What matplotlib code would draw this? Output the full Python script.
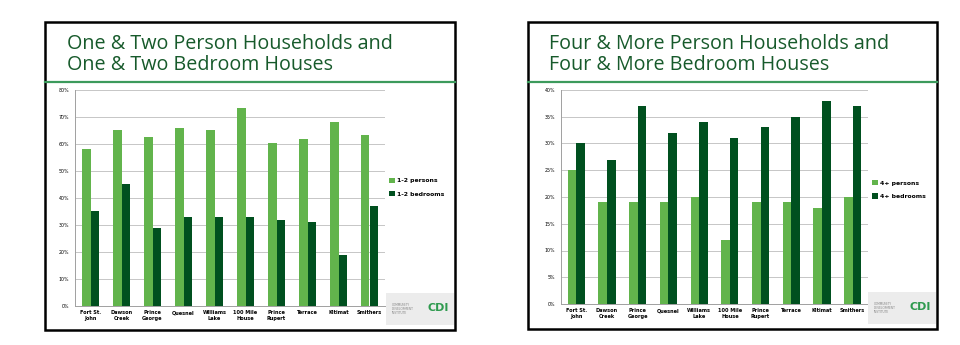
from matplotlib import pyplot as plt
from matplotlib.patches import Rectangle
from matplotlib.lines import Line2D
from matplotlib.ticker import FuncFormatter

towns = ["Fort St.\nJohn", "Dawson\nCreek", "Prince\nGeorge", "Quesnel", "Williams\nLake",
         "100 Mile\nHouse", "Prince\nRupert", "Terrace", "Kitimat", "Smithers"]

small_persons = [58, 65, 62.7, 66, 65, 73.5, 60.5, 62, 68, 63.3]
small_bedrooms = [35, 45, 29, 33, 33, 33, 32, 31, 19, 37]

large_persons = [25, 19, 19, 19, 20, 12, 19, 19, 18, 20]
large_bedrooms = [30, 27, 37, 32, 34, 31, 33, 35, 38, 37]

LIGHT = "#62b44c"
DARK = "#00501f"
TITLE = "#175a2b"
RULE = "#3c9a5c"

W, H = 960, 345
fig = plt.figure(figsize=(9.6, 3.45), dpi=100)


def px(x, y):
    return x / W, 1 - y / H


def panel(x0, x1, y0, y1, rule_y, title, title_x):
    fx0, fy1 = px(x0, y1)
    fx1, fy0 = px(x1, y0)
    fig.patches.append(Rectangle((fx0, fy1), fx1 - fx0, fy0 - fy1, transform=fig.transFigure,
                                 fill=False, edgecolor="black", linewidth=1.8))
    ry = 1 - rule_y / H
    fig.lines.append(Line2D([fx0, fx1], [ry, ry], transform=fig.transFigure,
                            color=RULE, linewidth=1.6))
    fig.text(title_x / W, 1 - 34 / H, title, fontsize=14.2, color=TITLE, family="Open Sans",
             va="top", ha="left", linespacing=1.08)


def logo(x, y):
    fx, fy = px(x, y + 32)
    fig.patches.append(Rectangle((fx, fy), 68 / W, 32 / H, transform=fig.transFigure,
                                 facecolor="#ececec", edgecolor="none"))
    fig.text((x + 6) / W, 1 - (y + 16) / H, "COMMUNITY\nDEVELOPMENT\nINSTITUTE",
             fontsize=2.2, color="#888888", va="center", linespacing=1.1)
    fig.text((x + 52) / W, 1 - (y + 15) / H, "CDI", fontsize=8, color="#2e9a4e",
             va="center", ha="center", weight="bold")


def chart(rect, a, b, labels, ymax, step, leg_y):
    ax = fig.add_axes(rect)
    x = range(len(towns))
    w = 0.28
    ax.bar([i - w / 2 for i in x], a, w, color=LIGHT, label=labels[0], zorder=3)
    ax.bar([i + w / 2 for i in x], b, w, color=DARK, label=labels[1], zorder=3)
    ax.set_xlim(-0.5, len(towns) - 0.5)
    ax.set_ylim(0, ymax)
    ax.set_yticks(range(0, ymax + 1, step))
    ax.yaxis.set_major_formatter(FuncFormatter(lambda v, p: f"{v:.0f}%"))
    ax.set_xticks(list(x))
    ax.set_xticklabels(towns, fontsize=3.6, weight="bold")
    ax.tick_params(axis="y", labelsize=3.4, length=0, pad=4)
    ax.tick_params(axis="x", length=0, pad=3)
    ax.grid(axis="y", color="#bdbdbd", linewidth=0.6, zorder=0)
    for s in ["top", "right"]:
        ax.spines[s].set_visible(False)
    ax.spines["left"].set_color("#a0a0a0")
    ax.spines["bottom"].set_color("#a0a0a0")
    ax.spines["left"].set_linewidth(0.7)
    ax.spines["bottom"].set_linewidth(0.7)
    ax.legend(loc="center left", bbox_to_anchor=(1.0, leg_y), frameon=False,
              prop={"size": 4.4, "weight": "bold"}, handlelength=0.9, handleheight=0.9,
              handletextpad=0.3, labelspacing=1.3, borderaxespad=0.3)
    return ax


panel(45, 455, 22, 330, 82, "One & Two Person Households and\nOne & Two Bedroom Houses", 67)
panel(528, 937, 22, 329, 82, "Four & More Person Households and\nFour & More Bedroom Houses", 549)

chart([75 / W, 1 - 306 / H, 310 / W, 216 / H], small_persons, small_bedrooms,
      ["1-2 persons", "1-2 bedrooms"], 80, 10, 0.55)
chart([561 / W, 1 - 304 / H, 307 / W, 214 / H], large_persons, large_bedrooms,
      ["4+ persons", "4+ bedrooms"], 40, 5, 0.535)

logo(386, 293)
logo(868, 292)

fig.savefig("out.png", dpi=100)
